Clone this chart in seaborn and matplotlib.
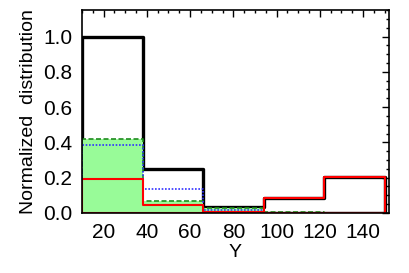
import numpy as np
import pandas as pd
import matplotlib
matplotlib.use('Agg')
import matplotlib.pyplot as plt
import seaborn as sns
from matplotlib.ticker import MultipleLocator

# bin edges and normalized counts
edges = [10, 38, 66, 94, 122, 150]
centers = [24, 52, 80, 108, 136]
black_vals = [1.0, 0.25, 0.034, 0.087, 0.204]
green_vals = [0.42, 0.068, 0.03, 0.005, 0.002]
blue_vals = [0.385, 0.135, 0.015, 0.002, 0.001]
red_vals = [0.195, 0.047, 0.004, 0.087, 0.204]

sns.set_style('white')
plt.rcParams['font.family'] = ['Liberation Sans', 'DejaVu Sans']
plt.rcParams['text.color'] = 'black'
plt.rcParams['axes.labelcolor'] = 'black'
plt.rcParams['xtick.color'] = 'black'
plt.rcParams['ytick.color'] = 'black'

fig = plt.figure(figsize=(4.09, 2.73), dpi=100)
ax = fig.add_axes([0.2005, 0.22, 0.7505, 0.743])

def step(vals, col, **kw):
    sns.histplot(x=centers, weights=vals, bins=edges, element='step', fill=True,
                 color=col, edgecolor=col, ax=ax, **kw)

step(black_vals, 'black', facecolor='none', linewidth=2.4)
step(green_vals, '#1e8c1e', facecolor='#98fb98', linewidth=1.2, linestyle=(0, (3, 1.5)), alpha=1)
step(blue_vals, '#3030ff', facecolor='none', linewidth=1.2, linestyle=(0, (1, 1)))
step(red_vals, 'red', facecolor='none', linewidth=1.5)

ax.set_xlim(10, 152)
ax.set_ylim(0, 1.15)
ax.xaxis.set_major_locator(MultipleLocator(20))
ax.xaxis.set_minor_locator(MultipleLocator(5))
ax.yaxis.set_major_locator(MultipleLocator(0.2))
ax.yaxis.set_minor_locator(MultipleLocator(0.05))
ax.yaxis.set_major_formatter(plt.FormatStrFormatter('%.1f'))
ax.tick_params(which='both', direction='in', top=True, right=True, colors='black', labelsize=15)
ax.tick_params(which='major', length=5, width=1, pad=7)
ax.tick_params(which='minor', length=2.5, width=1)
for s in ax.spines.values():
    s.set_color('black')
    s.set_linewidth(1.2)
ax.set_xlabel('Y', fontsize=14, labelpad=2, color='black')
ax.set_ylabel('Normalized  distribution', fontsize=14, labelpad=4, color='black')

fig.savefig('out.png', dpi=100)
